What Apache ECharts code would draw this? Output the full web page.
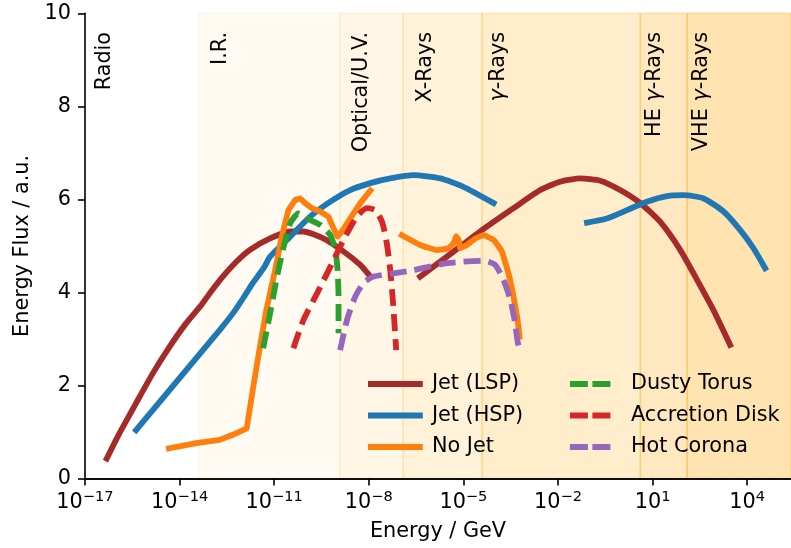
<!DOCTYPE html>
<html>
<head>
<meta charset="utf-8">
<script src="https://cdn.jsdelivr.net/npm/echarts@6/dist/echarts.min.js"></script>
<style>
  html, body { margin: 0; padding: 0; background: #ffffff; }
  #chart { width: 791px; height: 548px; }
</style>
</head>
<body>
<div id="chart"></div>
<script>
// Energy values are stored as log10(E / GeV); flux in arbitrary units.
const X_MIN = -17;
const X_MAX = 5.39;
const X_TICK_STEP = 3;
const Y_MIN = 0, Y_MAX = 10, Y_TICK_STEP = 2;

// Spectral bands: names, lower edges (log10 GeV) and label anchor positions
const bandNames = ['Radio', 'I.R.', 'Optical/U.V.', 'X-Rays', 'γ-Rays', 'HE γ-Rays', 'VHE γ-Rays'];
const bandEdges = [-17, -13.40, -8.91, -6.91, -4.41, 0.61, 2.10, 5.39];
const bandLabelX = [-16.39, -12.71, -8.24, -6.21, -3.89, 1.08, 2.57];
const bandLabelY = 9.6;

// Jet, low-synchrotron-peaked: synchrotron hump and inverse-Compton hump
const jetLspSync = [[-16.31,0.43],[-15.91,0.97],[-15.38,1.62],[-14.85,2.26],[-14.32,2.83],[-13.79,3.34],[-13.31,3.73],[-13.00,4.02],[-12.63,4.34],[-12.20,4.66],[-11.78,4.91],[-11.13,5.16],[-10.49,5.31],[-10.07,5.31],[-9.44,5.16],[-8.80,4.88],[-8.27,4.59],[-7.95,4.34]];
const jetLspIC = [[-6.37,4.34],[-5.52,4.77],[-4.47,5.31],[-3.41,5.81],[-2.56,6.20],[-1.93,6.38],[-1.29,6.45],[-0.66,6.40],[-0.03,6.20],[0.61,5.92],[1.24,5.52],[1.88,4.91],[2.41,4.27],[2.93,3.62],[3.46,2.87]];

// Jet, high-synchrotron-peaked
const jetHspSync = [[-15.38,1.04],[-14.85,1.47],[-14.32,1.90],[-13.79,2.33],[-13.26,2.76],[-12.73,3.19],[-12.31,3.55],[-11.99,3.87],[-11.68,4.20],[-11.31,4.55],[-11.13,4.77],[-10.49,5.20],[-9.86,5.63],[-9.22,5.95],[-8.59,6.20],[-7.95,6.35],[-7.32,6.45],[-6.58,6.52],[-5.73,6.45],[-5.00,6.27],[-4.04,5.92]];
const jetHspIC = [[-1.08,5.50],[-0.45,5.59],[0.19,5.77],[0.82,5.95],[1.46,6.07],[1.98,6.09],[2.62,6.02],[3.25,5.74],[3.78,5.34],[4.20,4.95],[4.57,4.52]];

// Non-jetted AGN: total emission
const noJetLow = [[-14.34,0.65],[-13.47,0.76],[-12.73,0.83],[-12.31,0.94],[-11.87,1.08],[-11.68,1.90],[-11.48,2.72],[-11.25,3.62],[-10.97,4.48],[-10.76,5.20],[-10.55,5.77],[-10.33,5.99],[-10.17,6.02],[-10.02,5.92],[-9.80,5.81],[-9.54,5.74],[-9.28,5.63],[-9.12,5.38],[-8.99,5.20],[-8.85,5.31],[-8.59,5.59],[-8.27,5.92],[-7.95,6.19]];
const noJetHigh = [[-6.95,5.23],[-6.37,5.02],[-5.84,4.91],[-5.47,4.95],[-5.31,5.06],[-5.23,5.21],[-5.15,5.13],[-5.10,4.95],[-4.89,5.02],[-4.62,5.16],[-4.36,5.23],[-4.04,5.13],[-3.78,4.88],[-3.57,4.41],[-3.41,3.91],[-3.28,3.41],[-3.22,3.05]];

// Individual non-jet components
const dustyTorus = [[-11.35,2.80],[-11.13,3.55],[-10.91,4.34],[-10.70,4.98],[-10.49,5.49],[-10.23,5.70],[-9.96,5.59],[-9.54,5.45],[-9.22,5.23],[-9.06,4.91],[-8.99,4.48],[-8.96,3.91],[-8.96,3.12]];
const accretionDisk = [[-10.39,2.80],[-10.07,3.41],[-9.64,3.98],[-9.22,4.55],[-8.80,5.13],[-8.38,5.63],[-8.06,5.81],[-7.80,5.77],[-7.58,5.52],[-7.43,5.06],[-7.32,4.48],[-7.23,3.77],[-7.13,2.76]];
const hotCorona = [[-8.91,2.76],[-8.69,3.41],[-8.43,3.91],[-8.17,4.20],[-7.85,4.34],[-7.22,4.41],[-6.58,4.48],[-5.52,4.63],[-4.36,4.68],[-3.99,4.59],[-3.73,4.27],[-3.51,3.84],[-3.36,3.34],[-3.28,2.94],[-3.22,2.79]];

// ---- rendering ----
const FONT = 'DejaVu Sans';
const FS = 20.8;
const LW = 5.8;
const DASH = [17, 8];
const bandAlpha = [0, 0.05, 0.10, 0.15, 0.20, 0.25, 0.30];

// the x axis runs in decades counted from X_MIN so that ticks land on 10^-17, 10^-14, ...
const toAxis = d => d.map(p => [p[0] - X_MIN, p[1]]);
const minus = n => (n < 0 ? '\u2212' + Math.abs(n) : String(n));

function lineSeries(name, data, color, dashed, smooth) {
  return {
    name, type: 'line', data: toAxis(data),
    symbol: 'none', showSymbol: false, smooth: smooth,
    z: 3, silent: true,
    itemStyle: { color },
    lineStyle: { color, width: LW, type: dashed ? DASH : 'solid',
                 cap: dashed ? 'butt' : 'square', join: 'round' }
  };
}

const bandAreas = bandNames.map((n, i) => [
  { xAxis: bandEdges[i] - X_MIN,
    itemStyle: { color: `rgba(255,165,0,${bandAlpha[i]})`,
                 borderColor: `rgba(255,165,0,${bandAlpha[i]})`, borderWidth: 1.6 } },
  { xAxis: bandEdges[i + 1] - X_MIN }
]).filter((a, i) => bandAlpha[i] > 0);

const bandLabelData = bandNames.map((n, i) => ({ name: n, value: [bandLabelX[i] - X_MIN, bandLabelY] }));

const gammaFmt = s => s.replace('γ', '{g|γ}');

const legendText = pad => ({ fontSize: FS, color: '#000', fontFamily: FONT, lineHeight: 22, padding: [0, 0, 0, pad] });

const option = {
  animation: false,
  backgroundColor: '#ffffff',
  textStyle: { fontFamily: FONT },
  grid: { left: 85, right: 0, top: 13.3, bottom: 69.5, containLabel: false },
  xAxis: [{
    type: 'value', min: 0, max: X_MAX - X_MIN, interval: X_TICK_STEP, z: 10,
    name: 'Energy / GeV', nameLocation: 'middle', nameGap: 43,
    nameTextStyle: { fontSize: FS, color: '#000', fontFamily: FONT },
    axisLine: { show: true, onZero: false, lineStyle: { color: '#000', width: 1.6 } },
    axisTick: { show: true, length: 7, lineStyle: { color: '#000', width: 1.6 } },
    splitLine: { show: false },
    axisLabel: {
      margin: 11, showMaxLabel: false, color: '#000',
      formatter: v => `{b|10}{s|${minus(Math.round(v + X_MIN))}}`,
      rich: {
        b: { fontSize: FS, fontFamily: FONT, color: '#000', lineHeight: 26 },
        s: { fontSize: 14.6, fontFamily: FONT, color: '#000', verticalAlign: 'top', lineHeight: 16 }
      }
    }
  }, {
    type: 'value', position: 'top', min: 0, max: X_MAX - X_MIN, z: 10,
    axisLine: { show: true, lineStyle: { color: '#000', width: 1.6 } },
    axisTick: { show: false }, axisLabel: { show: false }, splitLine: { show: false }
  }],
  yAxis: {
    type: 'value', min: Y_MIN, max: Y_MAX, interval: Y_TICK_STEP, z: 10,
    name: 'Energy Flux / a.u.', nameLocation: 'middle', nameGap: 52,
    nameTextStyle: { fontSize: FS, color: '#000', fontFamily: FONT },
    axisLine: { show: true, lineStyle: { color: '#000', width: 1.6 } },
    axisTick: { show: true, length: 7, lineStyle: { color: '#000', width: 1.6 } },
    splitLine: { show: false },
    axisLabel: { fontSize: FS, color: '#000', margin: 14, fontFamily: FONT }
  },
  legend: [{
    data: ['Jet (LSP)', 'Jet (HSP)', 'No Jet'],
    orient: 'vertical', left: 368, top: 373, padding: 0,
    itemWidth: 49, itemHeight: 12, itemGap: 9.5,
    itemStyle: { opacity: 0 },
    lineStyle: { width: LW },
    textStyle: legendText(7)
  }, {
    data: ['Dusty Torus', 'Accretion Disk', 'Hot Corona'],
    orient: 'vertical', left: 567, top: 373, padding: 0,
    itemWidth: 43, itemHeight: 12, itemGap: 9.5,
    itemStyle: { opacity: 0 },
    lineStyle: { width: LW, type: [18, 4.5] },
    textStyle: legendText(13)
  }],
  series: [
    {
      name: 'bands', type: 'line', data: [], z: 1, silent: true,
      markArea: { silent: true, data: bandAreas }
    },
    {
      name: 'band labels', type: 'scatter', data: bandLabelData, symbolSize: 0, z: 5, silent: true,
      itemStyle: { opacity: 1 },
      label: {
        show: true, position: [0, 0], rotate: 90, align: 'right', verticalAlign: 'middle',
        fontSize: FS, color: '#000', fontFamily: FONT, opacity: 1,
        formatter: p => gammaFmt(p.name),
        rich: { g: { fontSize: FS, fontStyle: 'italic', color: '#000', fontFamily: FONT } }
      }
    },
    lineSeries('Jet (LSP)', jetLspSync, '#a52a2a', false, 0.2),
    lineSeries('Jet (LSP)', jetLspIC, '#a52a2a', false, 0.2),
    lineSeries('Jet (HSP)', jetHspSync, '#1f77b4', false, 0.2),
    lineSeries('Jet (HSP)', jetHspIC, '#1f77b4', false, 0.2),
    lineSeries('No Jet', noJetLow, '#ff7f0e', false, false),
    lineSeries('No Jet', noJetHigh, '#ff7f0e', false, 0.1),
    lineSeries('Dusty Torus', dustyTorus, '#2ca02c', true, 0.2),
    lineSeries('Accretion Disk', accretionDisk, '#d62728', true, 0.2),
    lineSeries('Hot Corona', hotCorona, '#9467bd', true, 0.2)
  ]
};

const chart = echarts.init(document.getElementById('chart'), null, { renderer: 'canvas' });
chart.setOption(option);
</script>
</body>
</html>
